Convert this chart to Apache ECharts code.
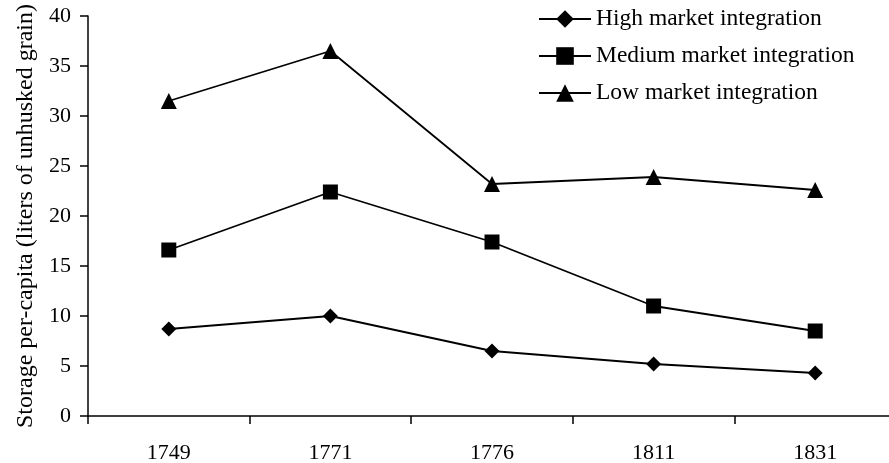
<!DOCTYPE html>
<html lang="en">
<head>
    <meta charset="utf-8">
    <title>Storage per-capita</title>
    <script src="https://cdn.jsdelivr.net/npm/echarts@6/dist/echarts.min.js"></script>
</head>
<body style="margin:0; background:#fff;">
<div id="main" style="width: 889px; height: 463px;"></div>
<script type="text/javascript">
    // data
    const years = ['1749', '1771', '1776', '1811', '1831'];
    const highVals = [8.7, 10.0, 6.5, 5.2, 4.3];
    const mediumVals = [16.6, 22.4, 17.4, 11.0, 8.5];
    const lowVals = [31.5, 36.5, 23.2, 23.9, 22.6];
    const seriesNames = ['High market integration', 'Medium market integration', 'Low market integration'];

    const serif = "'Liberation Serif', 'Times New Roman', serif";

    function makeSeries(name, data, symbol, size) {
        return {
            name: name,
            type: 'line',
            data: data,
            symbol: symbol,
            symbolSize: size,
            itemStyle: { color: '#000' },
            lineStyle: { color: '#000', width: 1.8 },
            emphasis: { disabled: true }
        };
    }

    let myChart = echarts.init(document.getElementById('main'));
    const option = {
        animation: false,
        textStyle: { fontFamily: serif, color: '#000' },
        // the x axis runs slightly past the right edge of the picture
        grid: { left: 88, width: 808, top: 16, bottom: 47, containLabel: false, outerBoundsMode: 'none' },
        legend: {
            orient: 'vertical',
            left: 533,
            top: 2,
            itemWidth: 52,
            itemHeight: 22,
            itemGap: 13,
            textStyle: { fontFamily: serif, fontSize: 23.5, color: '#000' },
            data: seriesNames
        },
        xAxis: {
            type: 'category',
            data: years,
            boundaryGap: true,
            axisLine: { lineStyle: { color: '#000', width: 1.5 } },
            axisTick: { show: true, length: 8, lineStyle: { color: '#000', width: 1.5 } },
            axisLabel: { fontFamily: serif, fontSize: 22, color: '#000', margin: 26 },
            splitLine: { show: false }
        },
        yAxis: {
            type: 'value',
            min: 0,
            max: 40,
            interval: 5,
            name: 'Storage per-capita (liters of unhusked grain)',
            nameLocation: 'middle',
            nameGap: 50,
            nameTextStyle: { fontFamily: serif, fontSize: 24, color: '#000' },
            axisLine: { show: true, lineStyle: { color: '#000', width: 1.5 } },
            axisTick: { show: true, length: 8, lineStyle: { color: '#000', width: 1.5 } },
            axisLabel: { fontFamily: serif, fontSize: 22, color: '#000', margin: 17 },
            splitLine: { show: false }
        },
        series: [
            makeSeries(seriesNames[0], highVals, 'diamond', 15),
            makeSeries(seriesNames[1], mediumVals, 'rect', 15),
            makeSeries(seriesNames[2], lowVals, 'triangle', 16)
        ]
    };
    myChart.setOption(option);
</script>
</body>
</html>
